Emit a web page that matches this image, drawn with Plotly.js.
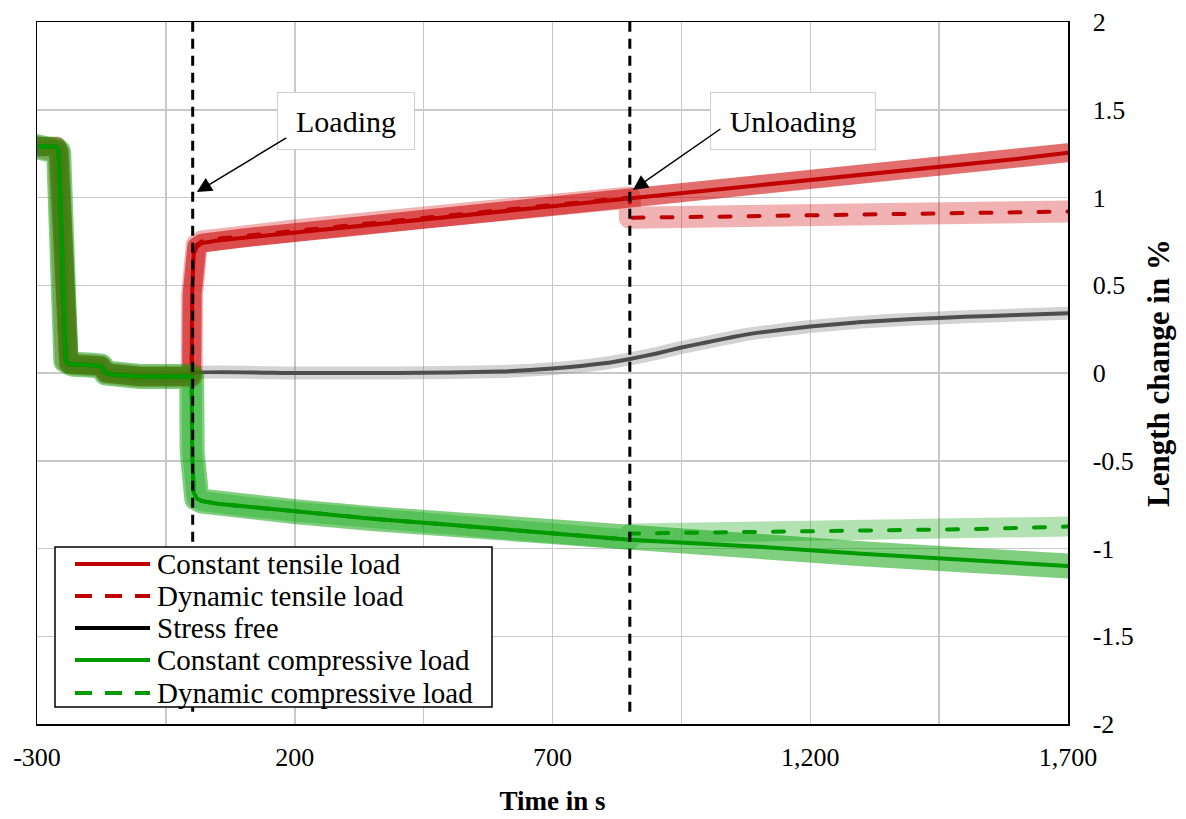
<!DOCTYPE html>
<html>
<head>
<meta charset="utf-8">
<script src="https://cdn.plot.ly/plotly-3.0.1.min.js"></script>
<style>
  html, body { margin: 0; padding: 0; background: #fff; }
  #chart { width: 1186px; height: 819px; }
  .scatterlayer path.js-line { stroke-linejoin: round; stroke-linecap: round; }
</style>
</head>
<body>
<div id="chart"></div>
<script>
// ---- data ----
// shared pre-loading phase (all specimens identical)
const preT = [-300, -262, -258, -244, -238, -230, -200, -176, -166, -150, -100, -50, 0];
const preV = [1.29, 1.29, 1.26, 0.07, 0.05, 0.05, 0.045, 0.04, 0.0, -0.01, -0.02, -0.02, -0.02];

// Constant tensile load
const ctT = [1, 4, 10, 20, 50, 100, 200, 350, 500, 700, 850, 1000, 1200, 1400, 1600, 1700];
const ctV = [0.45, 0.68, 0.72, 0.74, 0.755, 0.77, 0.80, 0.845, 0.89, 0.945, 0.99, 1.035, 1.095, 1.155, 1.22, 1.255];
// Dynamic tensile load
const dtT = [1, 4, 10, 20, 50, 100, 200, 350, 500, 700, 850, 850, 1000, 1200, 1400, 1600, 1700];
const dtV = [0.45, 0.69, 0.73, 0.75, 0.765, 0.78, 0.812, 0.857, 0.902, 0.957, 1.0, 0.885, 0.89, 0.90, 0.905, 0.915, 0.92];
// Stress free
const sfT = [1, 200, 400, 600, 700, 800, 850, 900, 950, 1000, 1050, 1100, 1200, 1300, 1400, 1500, 1600, 1700];
const sfV = [0, 0, 0, 0.008, 0.025, 0.055, 0.08, 0.11, 0.145, 0.175, 0.205, 0.23, 0.265, 0.29, 0.307, 0.32, 0.33, 0.34];
// Constant compressive load
const ccT = [1, 4, 10, 20, 50, 100, 200, 350, 500, 700, 850, 1000, 1100, 1300, 1500, 1700];
const ccV = [-0.45, -0.68, -0.715, -0.73, -0.745, -0.76, -0.79, -0.83, -0.865, -0.915, -0.95, -0.975, -0.99, -1.03, -1.065, -1.10];
// Dynamic compressive load
const dcT = [1, 4, 10, 20, 50, 100, 200, 350, 500, 700, 850, 850, 1000, 1300, 1500, 1700];
const dcV = [-0.45, -0.68, -0.715, -0.73, -0.745, -0.76, -0.79, -0.83, -0.865, -0.915, -0.95, -0.915, -0.91, -0.90, -0.89, -0.875];

const seriesNames = ['Constant tensile load', 'Dynamic tensile load', 'Stress free',
                     'Constant compressive load', 'Dynamic compressive load'];

// axis ticks
const xTickVals = [-300, -50, 200, 450, 700, 950, 1200, 1450, 1700];
const xTickText = ['-300', '', '200', '', '700', '', '1,200', '', '1,700'];
const yTickVals = [-2, -1.5, -1, -0.5, 0, 0.5, 1, 1.5, 2];
const yTickText = ['-2', '-1.5', '-1', '-0.5', '0', '0.5', '1', '1.5', '2'];

const loadT = 2, unloadT = 850;

// ---- build ----
const FONT = 'Liberation Serif, Times New Roman, serif';
const full = (t, v) => ({ x: preT.concat(t), y: preV.concat(v) });

function band(d, color, width, shape) {
  return { x: d.x, y: d.y, type: 'scatter', mode: 'lines',
           line: { color: color, width: width, shape: shape || 'linear', smoothing: 0.4 },
           showlegend: false, hoverinfo: 'skip' };
}
function line(d, color, dash, name, shape) {
  return { x: d.x, y: d.y, type: 'scatter', mode: 'lines', name: name, showlegend: false,
           line: { color: color, width: 4, dash: dash, shape: shape || 'linear', smoothing: 0.4 } };
}

const dCT = full(ctT, ctV), dDT = full(dtT, dtV), dSF = full(sfT, sfV),
      dCC = full(ccT, ccV), dDC = full(dcT, dcV);

const RED = '#c00000', GREEN = '#009a00', GRAY = '#4d4d4d';
const DASH = '11px,18px';

const traces = [
  band(dSF, 'rgba(128,128,128,0.35)', 13, 'spline'),
  line(dSF, GRAY, 'solid', seriesNames[2], 'spline'),
  band(dDT, 'rgba(204,0,0,0.30)', 22),
  band(dCT, 'rgba(204,0,0,0.57)', 19),
  line(dDT, RED, DASH, seriesNames[1]),
  line(dCT, RED, 'solid', seriesNames[0]),
  band(dDC, 'rgba(0,160,0,0.30)', 20),
  band(dCC, 'rgba(0,160,0,0.50)', 25),
  line(dDC, GREEN, DASH, seriesNames[4]),
  line(dCC, GREEN, 'solid', seriesNames[3])
];

// ---- legend drawn as a box, sample lines and labels (paper coordinates) ----
const L = 37, T = 22, PW = 1031, PH = 702;
const px = v => (v - L) / PW;
const py = v => (T + PH - v) / PH;
const legendStyle = [
  { color: RED, dash: 'solid' }, { color: RED, dash: '17px,13px' }, { color: '#000', dash: 'solid' },
  { color: GREEN, dash: 'solid' }, { color: GREEN, dash: '17px,13px' }
];
const rowY = [564, 596, 628, 660, 693];

const shapes = [
  { type: 'line', xref: 'x', yref: 'y', x0: loadT, x1: loadT, y0: -1.93, y1: 2,
    line: { color: '#000', width: 3, dash: '10px,7px' }, layer: 'above' },
  { type: 'line', xref: 'x', yref: 'y', x0: unloadT, x1: unloadT, y0: -1.93, y1: 2,
    line: { color: '#000', width: 3, dash: '10px,7px' }, layer: 'above' },
  { type: 'rect', xref: 'paper', yref: 'paper', x0: px(55), x1: px(492), y0: py(707), y1: py(547),
    fillcolor: '#fff', line: { color: '#000', width: 1.5 }, layer: 'above' }
];
const annotations = [
  { text: 'Loading', xref: 'x', yref: 'y', x: 300, y: 1.436, showarrow: false,
    width: 136, height: 56, bgcolor: '#fff', bordercolor: '#cfcfcf', borderwidth: 1, borderpad: 0,
    font: { family: FONT, size: 30, color: '#000' } },
  { text: 'Unloading', xref: 'x', yref: 'y', x: 1166, y: 1.436, showarrow: false,
    width: 164, height: 56, bgcolor: '#fff', bordercolor: '#cfcfcf', borderwidth: 1, borderpad: 0,
    font: { family: FONT, size: 30, color: '#000' } },
  { text: '', xref: 'x', yref: 'y', x: 10, y: 1.031, showarrow: true,
    ax: 91, ay: -55, arrowhead: 2, arrowsize: 2, arrowwidth: 1.5, arrowcolor: '#000', standoff: 0 },
  { text: '', xref: 'x', yref: 'y', x: 856, y: 1.043, showarrow: true,
    ax: 89, ay: -62, arrowhead: 2, arrowsize: 2, arrowwidth: 1.5, arrowcolor: '#000', standoff: 0 }
];
seriesNames.forEach((name, i) => {
  shapes.push({ type: 'line', xref: 'paper', yref: 'paper', x0: px(75), x1: px(150),
                y0: py(rowY[i]), y1: py(rowY[i]),
                line: { color: legendStyle[i].color, width: 4, dash: legendStyle[i].dash }, layer: 'above' });
  annotations.push({ text: name, xref: 'paper', yref: 'paper', x: px(156), y: py(rowY[i]),
                     xanchor: 'left', yanchor: 'middle', showarrow: false, borderpad: 0,
                     font: { family: FONT, size: 29, color: '#000' } });
});

const layout = {
  width: 1186, height: 819,
  margin: { l: 37, r: 118, t: 22, b: 95 },
  paper_bgcolor: '#fff', plot_bgcolor: '#fff',
  font: { family: FONT, size: 26, color: '#000' },
  showlegend: false,
  xaxis: {
    range: [-300, 1700], tickmode: 'array', tickvals: xTickVals, ticktext: xTickText,
    showgrid: true, gridcolor: '#c8c8c8', gridwidth: 1.5, zeroline: false,
    showline: true, linecolor: '#000', linewidth: 1.5, mirror: true,
    ticks: '', ticklabelstandoff: 9,
    tickfont: { family: FONT, size: 26, color: '#000' },
    title: { text: '<b>Time in s</b>', font: { family: FONT, size: 27, color: '#000' }, standoff: 20 }
  },
  yaxis: {
    range: [-2, 2], side: 'right', tickmode: 'array', tickvals: yTickVals, ticktext: yTickText,
    showgrid: true, gridcolor: '#c8c8c8', gridwidth: 1.5, zeroline: false,
    showline: true, linecolor: '#000', linewidth: 1.5, mirror: true,
    ticks: '', ticklabelstandoff: 18,
    tickfont: { family: FONT, size: 26, color: '#000' },
    title: { text: '<b>Length change in %</b>', font: { family: FONT, size: 31, color: '#000' }, standoff: 14 }
  },
  shapes: shapes,
  annotations: annotations
};

Plotly.newPlot('chart', traces, layout, { staticPlot: true, displayModeBar: false });
</script>
</body>
</html>
